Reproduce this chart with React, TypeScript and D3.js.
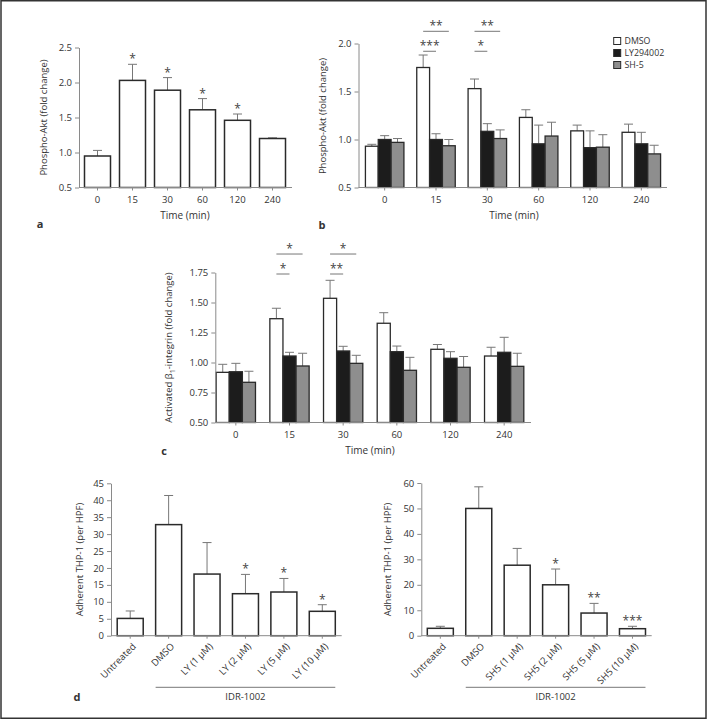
import React, { useRef, useEffect } from 'react'
import * as d3 from 'd3'

// shared categories
const timeLabels = ['0', '15', '30', '60', '120', '240']
const seriesNames = ['DMSO', 'LY294002', 'SH-5']
const seriesFill = ['#ffffff', '#1c1c1c', '#8e8e8e']

// panel a - phospho-Akt, time course
const aktMean = [0.95, 2.03, 1.89, 1.61, 1.46, 1.2]
const aktSem = [0.08, 0.23, 0.18, 0.16, 0.09, 0.01]
const aktStars = ['', '*', '*', '*', '*', '']

// panel b - phospho-Akt with inhibitors
const aktDmso = [0.93, 1.75, 1.53, 1.23, 1.09, 1.075]
const aktDmsoSem = [0.02, 0.13, 0.1, 0.08, 0.06, 0.085]
const aktLy = [1.0, 1.0, 1.085, 0.955, 0.915, 0.955]
const aktLySem = [0.04, 0.06, 0.08, 0.195, 0.175, 0.12]
const aktSh = [0.97, 0.935, 1.01, 1.036, 0.92, 0.85]
const aktShSem = [0.04, 0.065, 0.09, 0.144, 0.13, 0.09]
const aktBrackets = [
  { time: '15', from: 0, to: 1, at: 1.919, label: '***' },
  { time: '15', from: 0, to: 2, at: 2.127, label: '**' },
  { time: '30', from: 0, to: 1, at: 1.919, label: '*' },
  { time: '30', from: 0, to: 2, at: 2.127, label: '**' },
]

// panel c - activated beta1-integrin
const itgDmso = [0.918, 1.365, 1.535, 1.327, 1.11, 1.054]
const itgDmsoSem = [0.067, 0.087, 0.15, 0.088, 0.04, 0.073]
const itgLy = [0.923, 1.054, 1.096, 1.09, 1.035, 1.085]
const itgLySem = [0.07, 0.031, 0.039, 0.047, 0.055, 0.125]
const itgSh = [0.835, 0.971, 0.993, 0.935, 0.96, 0.968]
const itgShSem = [0.092, 0.106, 0.067, 0.108, 0.09, 0.109]
const itgBrackets = [
  { time: '15', from: 0, to: 1, at: 1.7375, label: '*' },
  { time: '15', from: 0, to: 2, at: 1.904, label: '*' },
  { time: '30', from: 0, to: 1, at: 1.7375, label: '**' },
  { time: '30', from: 0, to: 2, at: 1.904, label: '*' },
]

// panel d - adherent THP-1 cells
const lyLabels = ['Untreated', 'DMSO', 'LY (1 μM)', 'LY (2 μM)', 'LY (5 μM)', 'LY (10 μM)']
const lyMean = [5.1, 32.8, 18.2, 12.4, 12.9, 7.2]
const lySem = [2.2, 8.6, 9.3, 5.7, 4.0, 1.95]
const lyStars = ['', '', '', '*', '*', '*']
const shLabels = ['Untreated', 'DMSO', 'SH5 (1 μM)', 'SH5 (2 μM)', 'SH5 (5 μM)', 'SH5 (10 μM)']
const shMean = [2.9, 50.0, 27.7, 20.0, 8.9, 2.75]
const shSem = [0.8, 8.5, 6.6, 6.2, 3.8, 0.95]
const shStars = ['', '', '', '*', '**', '***']

const FONT = '"Open Sans", "Noto Sans", sans-serif'
const AXIS = '#8a8a8a'
const INK = '#333'
const ERR = '#777'
const CAP = 9

function styleAxis(ax: any) {
  ax.attr('font-family', null).attr('font-size', null)
  ax.selectAll('path, line').attr('stroke', AXIS)
  ax.selectAll('text').attr('fill', INK).style('font-family', FONT).style('font-size', '9.5px')
}

function yAxis(g: any, y: any, x0: number, ticks: number[], fmt: string) {
  const ax = g.append('g').attr('transform', `translate(${x0},0)`)
    .call(d3.axisLeft(y).tickValues(ticks).tickFormat(d3.format(fmt)).tickSize(4).tickSizeOuter(0).tickPadding(3))
  styleAxis(ax)
}

function xAxis(g: any, x: any, y0: number, x0: number, x1: number, rotate = false) {
  const ax = g.append('g').attr('transform', `translate(0,${y0})`)
    .call(d3.axisBottom(x).tickSize(3).tickSizeOuter(0).tickPadding(6))
  ax.select('.domain').remove()
  ax.append('line').attr('x1', x0).attr('x2', x1).attr('stroke', AXIS)
  styleAxis(ax)
  if (rotate) {
    ax.selectAll('text')
      .attr('text-anchor', 'end')
      .attr('dy', '0.35em')
      .attr('transform', 'translate(4,9) rotate(-45)')
      .attr('y', 0)
  }
}

function errorBar(g: any, cx: number, yTop: number, yErr: number) {
  g.append('line').attr('x1', cx).attr('x2', cx).attr('y1', yTop).attr('y2', yErr).attr('stroke', ERR)
  g.append('line').attr('x1', cx - CAP / 2).attr('x2', cx + CAP / 2).attr('y1', yErr).attr('y2', yErr).attr('stroke', ERR)
}

function star(g: any, cx: number, cy: number, label: string) {
  g.append('text').attr('x', cx).attr('y', cy + 7).attr('text-anchor', 'middle')
    .style('font-family', FONT).style('font-size', '12px').attr('fill', '#444').text(label)
}

function plainText(g: any, x: number, y: number, s: string, size = 10, weight = 'normal', anchor = 'middle') {
  return g.append('text').attr('x', x).attr('y', y).attr('dy', '0.35em').attr('text-anchor', anchor)
    .style('font-family', FONT).style('font-size', size + 'px').style('font-weight', weight)
    .attr('fill', INK).text(s)
}

function yTitle(g: any, x: number, y: number, s: any) {
  const t = g.append('text').attr('transform', `translate(${x},${y}) rotate(-90)`)
    .attr('text-anchor', 'middle').attr('dy', '0.35em')
    .style('font-family', FONT).style('font-size', '9.5px').attr('fill', INK)
  if (typeof s === 'string') t.text(s)
  else s(t)
}

function singleBars(g: any, x: any, y: any, labels: string[], mean: number[], sem: number[], stars: string[]) {
  const y0 = y.range()[0]
  labels.forEach((lab, i) => {
    const cx = x(lab) + x.bandwidth() / 2
    errorBar(g, cx, y(mean[i]), y(mean[i] + sem[i]))
    g.append('rect').attr('x', x(lab)).attr('y', y(mean[i])).attr('width', x.bandwidth())
      .attr('height', y0 - y(mean[i])).attr('fill', '#fff').attr('stroke', '#2a2a2a').attr('stroke-width', 1.5)
    if (stars[i]) star(g, cx, y(mean[i] + sem[i]) - 8, stars[i])
  })
}

function groupedBars(g: any, x: any, y: any, means: number[][], sems: number[][], brackets: any[]) {
  const y0 = y.range()[0]
  const inner = d3.scaleBand().domain(seriesNames).range([0, x.bandwidth()])
  timeLabels.forEach((t, i) => {
    seriesNames.forEach((s, k) => {
      const bx = x(t) + inner(s)
      const cx = bx + inner.bandwidth() / 2
      const v = means[k][i]
      errorBar(g, cx, y(v), y(v + sems[k][i]))
      g.append('rect').attr('x', bx).attr('y', y(v)).attr('width', inner.bandwidth())
        .attr('height', y0 - y(v)).attr('fill', seriesFill[k]).attr('stroke', '#2a2a2a').attr('stroke-width', 1.3)
    })
  })
  brackets.forEach(b => {
    const xa = x(b.time) + inner(seriesNames[b.from]) + inner.bandwidth() / 2
    const xb = x(b.time) + inner(seriesNames[b.to]) + inner.bandwidth() / 2
    const yy = y(b.at)
    g.append('line').attr('x1', xa).attr('x2', xb).attr('y1', yy).attr('y2', yy).attr('stroke', ERR)
    star(g, (xa + xb) / 2, yy - 8, b.label)
  })
}

function doseBracket(g: any, x: any, labels: string[], yy: number) {
  const xa = x(labels[1])
  const xb = x(labels[labels.length - 1]) + x.bandwidth()
  g.append('line').attr('x1', xa).attr('x2', xb).attr('y1', yy).attr('y2', yy).attr('stroke', ERR)
  plainText(g, (xa + xb) / 2, yy + 9.5, 'IDR-1002', 9.5)
}

export default function App() {
  const ref = useRef<SVGSVGElement>(null)

  useEffect(() => {
    const svg = d3.select(ref.current)
    svg.selectAll('*').remove()
    const g = svg.append('g')

    // ---- a ----
    const xa = d3.scaleBand().domain(timeLabels).range([80, 290]).paddingInner(0.257).paddingOuter(0.1285)
    const ya = d3.scaleLinear().domain([0.5, 2.5]).range([187.5, 47.5])
    singleBars(g, xa, ya, timeLabels, aktMean, aktSem, aktStars)
    yAxis(g, ya, 79, [0.5, 1, 1.5, 2, 2.5], '.1f')
    xAxis(g, xa, 187.5, 79, 292)
    yTitle(g, 44, 117.5, 'Phospho-Akt (fold change)')
    plainText(g, 185, 215, 'Time (min)')
    plainText(g, 40, 224, 'a', 11, 'bold')

    // ---- b ----
    const xb = d3.scaleBand().domain(timeLabels).range([359, 667]).paddingInner(0.25).paddingOuter(0.125)
    const yb = d3.scaleLinear().domain([0.5, 2.0]).range([187.5, 43.5])
    groupedBars(g, xb, yb, [aktDmso, aktLy, aktSh], [aktDmsoSem, aktLySem, aktShSem], aktBrackets)
    yAxis(g, yb, 358.5, [0.5, 1, 1.5, 2], '.1f')
    xAxis(g, xb, 187.5, 358.5, 667)
    yTitle(g, 323, 116, 'Phospho-Akt (fold change)')
    plainText(g, 514, 215, 'Time (min)')
    plainText(g, 322, 225, 'b', 11, 'bold')

    // legend
    const legendY = d3.scalePoint().domain(seriesNames).range([41, 65])
    seriesNames.forEach((s, k) => {
      g.append('rect').attr('x', 613.7).attr('y', legendY(s)! - 3.5).attr('width', 7).attr('height', 7)
        .attr('fill', seriesFill[k]).attr('stroke', '#2a2a2a').attr('stroke-width', 1)
      plainText(g, 624.5, legendY(s)!, s, 8.8, 'normal', 'start')
    })

    // ---- c ----
    const xc = d3.scaleBand().domain(timeLabels).range([209, 531]).paddingInner(0.268).paddingOuter(0.134)
    const yc = d3.scaleLinear().domain([0.5, 1.75]).range([422.5, 272.5])
    groupedBars(g, xc, yc, [itgDmso, itgLy, itgSh], [itgDmsoSem, itgLySem, itgShSem], itgBrackets)
    yAxis(g, yc, 215.3, [0.5, 0.75, 1, 1.25, 1.5, 1.75], '.2f')
    xAxis(g, xc, 422.5, 215.3, 531)
    yTitle(g, 169, 347.5, (t: any) => {
      t.append('tspan').text('Activated β')
      t.append('tspan').attr('dy', '2.5').style('font-size', '7px').text('1')
      t.append('tspan').attr('dy', '-2.5').text('-integrin (fold change)')
    })
    plainText(g, 370, 450.5, 'Time (min)')
    plainText(g, 164, 451, 'c', 11, 'bold')

    // ---- d left ----
    const xdl = d3.scaleBand().domain(lyLabels).range([111, 341.5]).paddingInner(0.323).paddingOuter(0.1615)
    const ydl = d3.scaleLinear().domain([0, 45]).range([635.7, 483.3])
    singleBars(g, xdl, ydl, lyLabels, lyMean, lySem, lyStars)
    yAxis(g, ydl, 111, d3.range(0, 46, 5), 'd')
    xAxis(g, xdl, 635.7, 111, 341.7, true)
    yTitle(g, 80, 559.5, 'Adherent THP-1 (per HPF)')
    doseBracket(g, xdl, lyLabels, 687.3)
    plainText(g, 77, 697, 'd', 11, 'bold')

    // ---- d right ----
    const xdr = d3.scaleBand().domain(shLabels).range([421.1, 651.7]).paddingInner(0.323).paddingOuter(0.1615)
    const ydr = d3.scaleLinear().domain([0, 60]).range([635.7, 483])
    singleBars(g, xdr, ydr, shLabels, shMean, shSem, shStars)
    yAxis(g, ydr, 421.3, d3.range(0, 61, 10), 'd')
    xAxis(g, xdr, 635.7, 421.3, 651.7, true)
    yTitle(g, 387.3, 559.5, 'Adherent THP-1 (per HPF)')
    doseBracket(g, xdr, shLabels, 687.3)

    // frame
    g.append('rect').attr('x', 1).attr('y', 0.75).attr('width', 705).attr('height', 717.5)
      .attr('fill', 'none').attr('stroke', '#333').attr('stroke-width', 1.5)
  }, [])

  return (
    <svg ref={ref} width={708} height={720}
      style={{ position: 'absolute', left: 0, top: 0, background: '#fff' }} />
  )
}
